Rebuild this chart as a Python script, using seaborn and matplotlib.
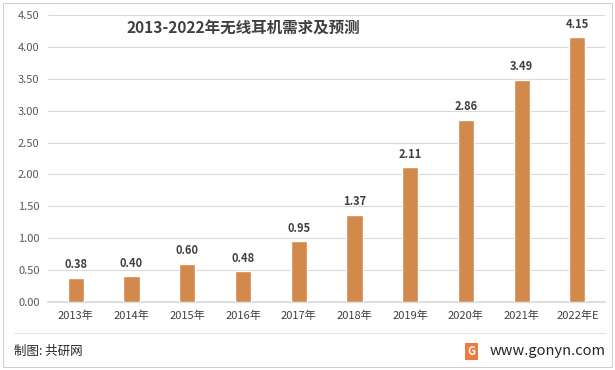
import matplotlib
matplotlib.use("Agg")
import matplotlib.pyplot as plt
import seaborn as sns
import pandas as pd
from matplotlib.patches import Rectangle

years = ["2013年", "2014年", "2015年", "2016年", "2017年",
         "2018年", "2019年", "2020年", "2021年", "2022年E"]
demand = [0.38, 0.40, 0.60, 0.48, 0.95, 1.37, 2.11, 2.86, 3.49, 4.15]
yticks = [0.0, 0.5, 1.0, 1.5, 2.0, 2.5, 3.0, 3.5, 4.0, 4.5]

sns.set_theme(style="white")
plt.rcParams['font.family'] = ['Noto Sans CJK SC', 'DejaVu Sans']

df = pd.DataFrame({"year": years, "demand": demand})

fig = plt.figure(figsize=(6.15, 3.7), dpi=100)
ax = fig.add_axes([0.078, 0.184, 0.906, 0.775])

sns.barplot(data=df, x="year", y="demand", color="#D4894C", width=0.29,
            saturation=1, ax=ax, zorder=3)

ax.set_ylim(0, 4.5)
ax.set_xlim(-0.5, 9.5)
ax.set_yticks(yticks)
ax.set_yticklabels([f"{v:.2f}" for v in yticks], fontsize=8, color="#595959")
ax.tick_params(axis="x", labelsize=8, colors="#404040", length=0, pad=6)
ax.tick_params(axis="y", length=0, pad=6)
ax.set_xlabel("")
ax.set_ylabel("")
ax.yaxis.grid(True, color="#D9D9D9", linewidth=0.8, zorder=0)
for s in ["top", "right", "left"]:
    ax.spines[s].set_visible(False)
ax.spines["bottom"].set_color("#D9D9D9")

for i, v in enumerate(demand):
    ax.text(i, v + 0.1, f"{v:.2f}", ha="center", va="bottom", fontsize=8,
            fontweight="bold", color="#404040", zorder=4)

fig.text(0.395, 0.925, "2013-2022年无线耳机需求及预测", ha="center", va="center",
         fontsize=11.2, fontweight="bold", color="#404040")

# frame and footer
fig.patches.append(Rectangle((0.005, 0.008), 0.99, 0.984, transform=fig.transFigure,
                             fill=False, edgecolor="#D0D0D0", linewidth=0.8))
fig.add_artist(plt.Line2D([0.022, 0.985], [0.10, 0.10], color="#E3E3E3", linewidth=0.8))
fig.text(0.022, 0.05, "制图: 共研网", ha="left", va="center", fontsize=9, color="#262626")
fig.text(0.985, 0.05, "www.gonyn.com", ha="right", va="center", fontsize=10.5, color="#262626")
fig.text(0.767, 0.05, "G", ha="center", va="center", fontsize=8, fontweight="bold",
         color="white", bbox=dict(boxstyle="square,pad=0.2", fc="#F07B3F", ec="none"))

fig.savefig("out.png", dpi=100)
